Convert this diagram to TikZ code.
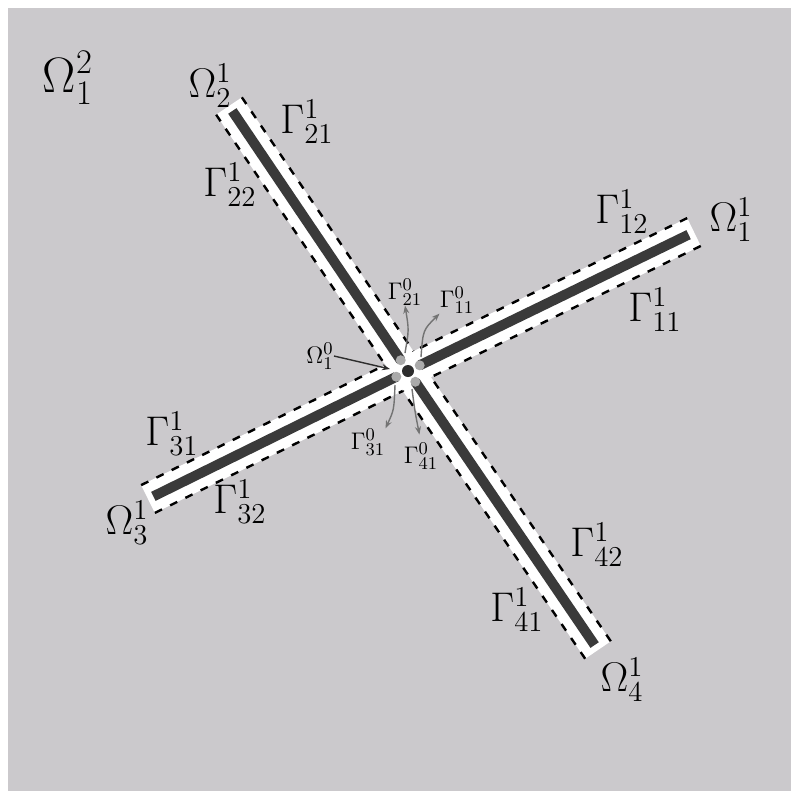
\documentclass[tikz,border=0pt]{standalone}
\usetikzlibrary{calc,arrows.meta}
\definecolor{bg}{RGB}{203,201,204}
\definecolor{rodc}{RGB}{58,58,58}
\definecolor{hubc}{RGB}{45,45,45}
\definecolor{dotg}{RGB}{170,170,170}
\definecolor{arr}{RGB}{115,115,115}
\begin{document}
\begin{tikzpicture}[x=0.5pt,y=-0.5pt,
  lbl/.style={font=\fontsize{20}{22}\selectfont, inner sep=0pt},
  big/.style={font=\fontsize{26}{28}\selectfont, inner sep=0pt},
  sml/.style={font=\fontsize{13}{15}\selectfont, inner sep=0pt},
  rod/.style={line width=5pt, draw=rodc},
  bound/.style={dash pattern=on 4pt off 4.5pt, line width=1.2pt, draw=black},
  ptr/.style={draw=arr, line width=0.7pt, -{Stealth[length=4pt,width=3pt]}},
  hubptr/.style={draw=hubc, line width=0.7pt, -{Stealth[length=4pt,width=3pt]}}]
\useasboundingbox (0,0) rectangle (800,800);
\fill[white] (0,0) rectangle (800,800);
\fill[bg] (8,8) rectangle (791,791);

\coordinate (C) at (408,371);
\coordinate (E1) at (694,232);
\coordinate (E2) at (229,106);
\coordinate (E3) at (148,499);
\coordinate (E4) at (598,650);
\foreach \i in {1,2,3,4}{
  \coordinate (P\i) at ($(C)!7.75pt!90:(E\i)$);
  \coordinate (Q\i) at ($(E\i)!7.75pt!-90:(C)$);
  \coordinate (M\i) at ($(C)!7.75pt!-90:(E\i)$);
  \coordinate (N\i) at ($(E\i)!7.75pt!90:(C)$);
  \coordinate (D\i) at ($(C)!6.5pt!(E\i)$);
  \coordinate (F\i) at ($(E\i)!3pt!(C)$);
}
\coordinate (K12) at (intersection of P1--Q1 and M2--N2);
\coordinate (K23) at (intersection of P2--Q2 and M3--N3);
\coordinate (K34) at (intersection of P3--Q3 and M4--N4);
\coordinate (K41) at (intersection of P4--Q4 and M1--N1);

\fill[white] (N1) -- (Q1) -- (K12) -- (N2) -- (Q2) -- (K23) -- (N3) -- (Q3)
  -- (K34) -- (N4) -- (Q4) -- (K41) -- cycle;

\draw[bound] (Q1) -- (K12);
\draw[bound] (N2) -- (K12);
\draw[bound] (Q2) -- (K23);
\draw[bound] (N3) -- (K23);
\draw[bound] (Q3) -- (K34);
\draw[bound] (N4) -- (K34);
\draw[bound] (Q4) -- (K41);
\draw[bound] (N1) -- (K41);

\foreach \i in {1,2,3,4}{
  \draw[rod] (D\i) -- (F\i);
  \fill[dotg] (D\i) circle[radius=2.5pt];
}
\fill[hubc] (C) circle[radius=3pt];

% labels
\node[big] (O21) at (68,78) {$\Omega^2_1$};
\node[lbl] (O12) at (210,86) {$\Omega^1_2$};
\node[lbl] (G121) at (307,122) {$\Gamma^1_{21}$};
\node[lbl] (G122) at (230,185) {$\Gamma^1_{22}$};
\node[lbl] (G112) at (622,212) {$\Gamma^1_{12}$};
\node[lbl] (O11) at (731,220) {$\Omega^1_1$};
\node[lbl] (G111) at (655,310) {$\Gamma^1_{11}$};
\node[lbl] (G131) at (172,434) {$\Gamma^1_{31}$};
\node[lbl] (O13) at (127,523) {$\Omega^1_3$};
\node[lbl] (G132) at (240,502) {$\Gamma^1_{32}$};
\node[lbl] (G142) at (597,545) {$\Gamma^1_{42}$};
\node[lbl] (G141) at (517,610) {$\Gamma^1_{41}$};
\node[lbl] (O14) at (622,680) {$\Omega^1_4$};

\node[sml] (g21) at (405,292) {$\Gamma^0_{21}$};
\node[sml] (g11) at (457,300) {$\Gamma^0_{11}$};
\node[sml] (o1) at (320,356) {$\Omega^0_1$};
\node[sml] (g31) at (368,442) {$\Gamma^0_{31}$};
\node[sml] (g41) at (421,456) {$\Gamma^0_{41}$};

\coordinate (s21) at (405,353);
\coordinate (s11) at (421,357);
\coordinate (s31) at (395,385);
\coordinate (s41) at (412,389);
\coordinate (hubend) at (390,369);

\draw[ptr] (s21) .. controls (409,330) .. (g21.south);
\draw[ptr] (s11) .. controls (423,330) .. (g11.south west);
\draw[ptr] (s31) .. controls (394,410) .. (g31.north east);
\draw[ptr, shorten >=4pt] (s41) .. controls (415,412) .. (g41.north);
\draw[hubptr] (o1.east) -- (hubend);
\end{tikzpicture}
\end{document}
